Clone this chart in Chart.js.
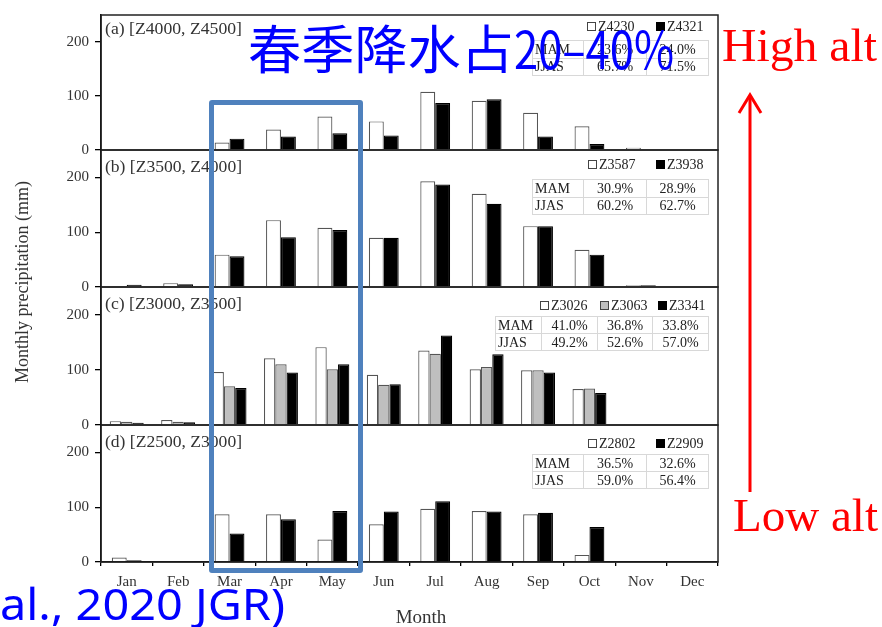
<!DOCTYPE html>
<html>
<head>
<meta charset="utf-8">
<script src="https://cdn.jsdelivr.net/npm/chart.js@4.4.1/dist/chart.umd.min.js"></script>
<style>
  html, body { margin:0; padding:0; background:#fff; }
  #root { position:relative; width:882px; height:627px; overflow:hidden; background:#fff; }
  canvas.panel { position:absolute; left:0; top:0; }
  .serif { font-family:"Liberation Serif","Times New Roman",serif; color:#333; }
  .lbl { position:absolute; white-space:nowrap; font-size:16px; line-height:16px; display:inline-block; transform-origin:0 0; }
  .leg { position:absolute; white-space:nowrap; font-size:14px; line-height:14px; color:#222; }
  .leg span.box { display:inline-block; width:7px; height:7px; border:1px solid #444; margin-right:2px; vertical-align:0px; }
  table.stat { position:absolute; border-collapse:collapse; table-layout:fixed; font-size:14px; color:#222; }
  table.stat td { border:1px solid #d8d8d8; padding:0 2px; line-height:15px; text-align:center; white-space:nowrap; }
  table.stat td:first-child { text-align:left; }
  .fit { position:absolute; white-space:nowrap; display:inline-block; transform-origin:0 0; }
</style>
</head>
<body>
<div id="root">
  <canvas class="panel" id="pa" width="882" height="627"></canvas>
  <canvas class="panel" id="pb" width="882" height="627"></canvas>
  <canvas class="panel" id="pc" width="882" height="627"></canvas>
  <canvas class="panel" id="pd" width="882" height="627"></canvas>
</div>
<script>
// ---------- data ----------
const months = ['Jan','Feb','Mar','Apr','May','Jun','Jul','Aug','Sep','Oct','Nov','Dec'];
const yTicks = [0, 100, 200];

const a_Z4230 = [2, 2, 14, 38, 62, 53, 108, 91, 69, 44, 4, 0];
const a_Z4321 = [0, 0, 21, 25, 31, 27, 87, 94, 25, 11, 0, 0];
const b_Z3587 = [2, 7, 59, 122, 108, 90, 193, 170, 111, 68, 3, 0];
const b_Z3938 = [4, 5, 56, 91, 104, 90, 187, 152, 111, 59, 3, 0];
const c_Z3026 = [7, 9, 96, 121, 141, 91, 135, 101, 99, 65, 1, 0];
const c_Z3063 = [6, 6, 70, 110, 101, 73, 129, 105, 99, 66, 2, 0];
const c_Z3341 = [4, 5, 67, 95, 110, 74, 162, 128, 95, 58, 2, 0];
const d_Z2802 = [8, 2, 87, 87, 41, 69, 97, 93, 87, 13, 0, 0];
const d_Z2909 = [3, 2, 52, 78, 93, 92, 111, 92, 90, 64, 2, 0];

const panelTitles = ['(a) [Z4000, Z4500]', '(b) [Z3500, Z4000]', '(c) [Z3000, Z3500]', '(d) [Z2500, Z3000]'];
const a_names = ['Z4230', 'Z4321'];
const b_names = ['Z3587', 'Z3938'];
const c_names = ['Z3026', 'Z3063', 'Z3341'];
const d_names = ['Z2802', 'Z2909'];
const a_MAM = ['23.6%', '24.0%'];  const a_JJAS = ['65.7%', '71.5%'];
const b_MAM = ['30.9%', '28.9%'];  const b_JJAS = ['60.2%', '62.7%'];
const c_MAM = ['41.0%', '36.8%', '33.8%']; const c_JJAS = ['49.2%', '52.6%', '57.0%'];
const d_MAM = ['36.5%', '32.6%'];  const d_JJAS = ['59.0%', '56.4%'];

const yTitle = 'Monthly precipitation (mm)';
const xTitle = 'Month';
const noteCN1 = '春季降水占';
const noteCN2 = '20–40%';
const highTxt = 'High alt';
const lowTxt = 'Low alt';
const citeTxt = 'al., 2020 JGR)';

// ---------- styles ----------
const SERIF = '"Liberation Serif","Times New Roman",serif';
const styles2 = [ {bg:'#ffffff', bd:'#555555'}, {bg:'#000000', bd:'#000000'} ];
const styles3 = [ {bg:'#ffffff', bd:'#555555'}, {bg:'#bfbfbf', bd:'#555555'}, {bg:'#000000', bd:'#000000'} ];

const frame = {
  id: 'frame',
  afterDatasetsDraw(chart) {
    const {ctx, chartArea:{left, top, right, bottom}} = chart;
    ctx.save();
    ctx.strokeStyle = '#222';
    ctx.lineWidth = 1.5;
    ctx.strokeRect(left, top, right - left, bottom - top);
    ctx.restore();
  }
};

const PLOT_L = 101, PLOT_R = 718, W = 882, H = 627;

function makePanel(id, top, bottom, names, series, isLast) {
  const st = series.length === 3 ? styles3 : styles2;
  const catPct = series.length === 3 ? 0.66 : 0.58;
  const xh = isLast ? 30 : 0;
  new Chart(document.getElementById(id), {
    type: 'bar',
    data: {
      labels: months,
      datasets: series.map((d, i) => ({
        label: names[i], data: d,
        backgroundColor: st[i].bg, borderColor: st[i].bd, borderWidth: 1.2,
        categoryPercentage: catPct, barPercentage: 1.0
      }))
    },
    options: {
      responsive: false, animation: false, events: [],
      layout: { padding: { left: 0, right: W - PLOT_R, top: top, bottom: H - bottom - xh } },
      plugins: { legend: { display: false }, tooltip: { enabled: false } },
      scales: {
        x: {
          display: isLast,
          offset: true,
          grid: { display: true, drawOnChartArea: false, drawTicks: true, tickLength: 4, color: '#000', offset: true, lineWidth: 1.3 },
          border: { display: true, color: '#000', width: 1.5 },
          ticks: { font: { family: SERIF, size: 15 }, color: '#333', padding: 7, maxRotation: 0, autoSkip: false },
          afterFit: (s) => { s.height = xh; }
        },
        y: {
          min: 0, max: 250,
          grid: { drawOnChartArea: false, drawTicks: true, tickLength: 6, color: '#000', lineWidth: 1.3 },
          border: { display: true, color: '#000', width: 1.5 },
          ticks: { stepSize: 100, includeBounds: false, font: { family: SERIF, size: 15 }, color: '#333', padding: 6 },
          afterBuildTicks: (s) => { s.ticks = yTicks.map(v => ({ value: v })); },
          afterFit: (s) => { s.width = PLOT_L; }
        }
      }
    },
    plugins: [frame]
  });
}

const tops = [12, 150, 287, 425];
const bottoms = [150, 287, 425, 562];
makePanel('pa', tops[0], bottoms[0], a_names, [a_Z4230, a_Z4321], false);
makePanel('pb', tops[1], bottoms[1], b_names, [b_Z3587, b_Z3938], false);
makePanel('pc', tops[2], bottoms[2], c_names, [c_Z3026, c_Z3063, c_Z3341], false);
makePanel('pd', tops[3], bottoms[3], d_names, [d_Z2802, d_Z2909], true);

// ---------- annotations (HTML text) ----------
const root = document.getElementById('root');
function el(tag, cls, css, txt) {
  const e = document.createElement(tag);
  if (cls) e.className = cls;
  Object.assign(e.style, css || {});
  if (txt !== undefined) e.textContent = txt;
  root.appendChild(e);
  return e;
}
function fit(e, w) {
  const r = e.getBoundingClientRect().width;
  if (r > 0) e.style.transform = 'scaleX(' + (w / r) + ')';
}

// panel titles
panelTitles.forEach((t, i) => {
  const e = el('div', 'lbl serif', { left: '105px', top: (tops[i] + 9) + 'px', fontSize: '16px', color: '#333' }, t);
  fit(e, 137);
});

// legends
function legend(names, st, xs, yc) {
  names.forEach((n, i) => {
    const d = el('div', 'leg serif', { left: xs[i] + 'px', top: (yc - 7) + 'px' });
    const b = document.createElement('span'); b.className = 'box';
    b.style.background = st[i].bg; b.style.borderColor = st[i].bd === '#000000' ? '#000' : '#444';
    d.appendChild(b);
    d.appendChild(document.createTextNode(n));
  });
}
legend(a_names, styles2, [587, 656], tops[0] + 15);
legend(b_names, styles2, [588, 656], tops[1] + 15);
legend(c_names, styles3, [540, 600, 658], tops[2] + 19);
legend(d_names, styles2, [588, 656], tops[3] + 19);

// stat tables
function table(left, top, colW, rowH, mam, jjas) {
  const t = el('table', 'stat serif', { left: left + 'px', top: top + 'px' });
  const cg = document.createElement('colgroup');
  colW.forEach(w => { const c = document.createElement('col'); c.style.width = w + 'px'; cg.appendChild(c); });
  t.appendChild(cg);
  [['MAM', ...mam], ['JJAS', ...jjas]].forEach(r => {
    const tr = document.createElement('tr');
    r.forEach(v => { const td = document.createElement('td'); td.textContent = v; td.style.height = (rowH - 1) + 'px'; tr.appendChild(td); });
    t.appendChild(tr);
  });
}
table(532, tops[0] + 28, [51, 63, 62], 17.5, a_MAM, a_JJAS);
table(532, tops[1] + 29, [51, 63, 62], 17.5, b_MAM, b_JJAS);
table(495, tops[2] + 29, [46, 56, 55, 56], 17, c_MAM, c_JJAS);
table(532, tops[3] + 29, [51, 63, 62], 17, d_MAM, d_JJAS);

// axis titles
el('div', 'serif', { position:'absolute', left:(22 - 150) + 'px', top:(282 - 10) + 'px', width:'300px', height:'20px',
  lineHeight:'20px', textAlign:'center', fontSize:'18px', transform:'rotate(-90deg)', transformOrigin:'50% 50%', whiteSpace:'nowrap' }, yTitle);
el('div', 'serif', { position:'absolute', left:(421 - 100) + 'px', top:(617 - 11) + 'px', width:'200px', lineHeight:'22px',
  textAlign:'center', fontSize:'19px', whiteSpace:'nowrap' }, xTitle);

// blue box around spring months
el('div', '', { position:'absolute', left:'209px', top:'100px', width:'154px', height:'473px', boxSizing:'border-box',
  border:'5px solid #4f81bd', borderRadius:'3px' });

// blue note
const cn1 = el('span', 'fit', { left:'248px', top:'21px', fontFamily:'"Noto Sans CJK SC",sans-serif', fontSize:'52px', lineHeight:'52px', color:'#0000ff' }, noteCN1);
const cn2 = el('span', 'fit', { left:'514px', top:'21px', fontFamily:'"Noto Sans CJK SC",sans-serif', fontSize:'52px', lineHeight:'52px', color:'#0000ff' }, noteCN2);

// red annotations
const hi = el('span', 'fit', { left:'722px', top:'23px', fontFamily:SERIF, fontSize:'46px', lineHeight:'46px', color:'#ff0000' }, highTxt);
const lo = el('span', 'fit', { left:'733px', top:'493px', fontFamily:SERIF, fontSize:'46px', lineHeight:'46px', color:'#ff0000' }, lowTxt);
const svgNS = 'http://www.w3.org/2000/svg';
const svg = document.createElementNS(svgNS, 'svg');
svg.setAttribute('width', W); svg.setAttribute('height', H);
Object.assign(svg.style, { position:'absolute', left:'0', top:'0', pointerEvents:'none' });
svg.innerHTML = '<line x1="750" y1="96" x2="750" y2="492" stroke="#ff0000" stroke-width="3"/>' +
                '<polyline points="739,113 750,95 761,113" fill="none" stroke="#ff0000" stroke-width="3"/>';
root.appendChild(svg);

// citation fragment
const cite = el('span', 'fit', { left:'0px', top:'581px', fontFamily:'"Noto Sans",sans-serif', fontSize:'44px', lineHeight:'44px', color:'#0000ff' }, citeTxt);

fit(cn1, 266);
fit(cn2, 160);
fit(hi, 155);
fit(lo, 145);
fit(cite, 285);
</script>
</body>
</html>
